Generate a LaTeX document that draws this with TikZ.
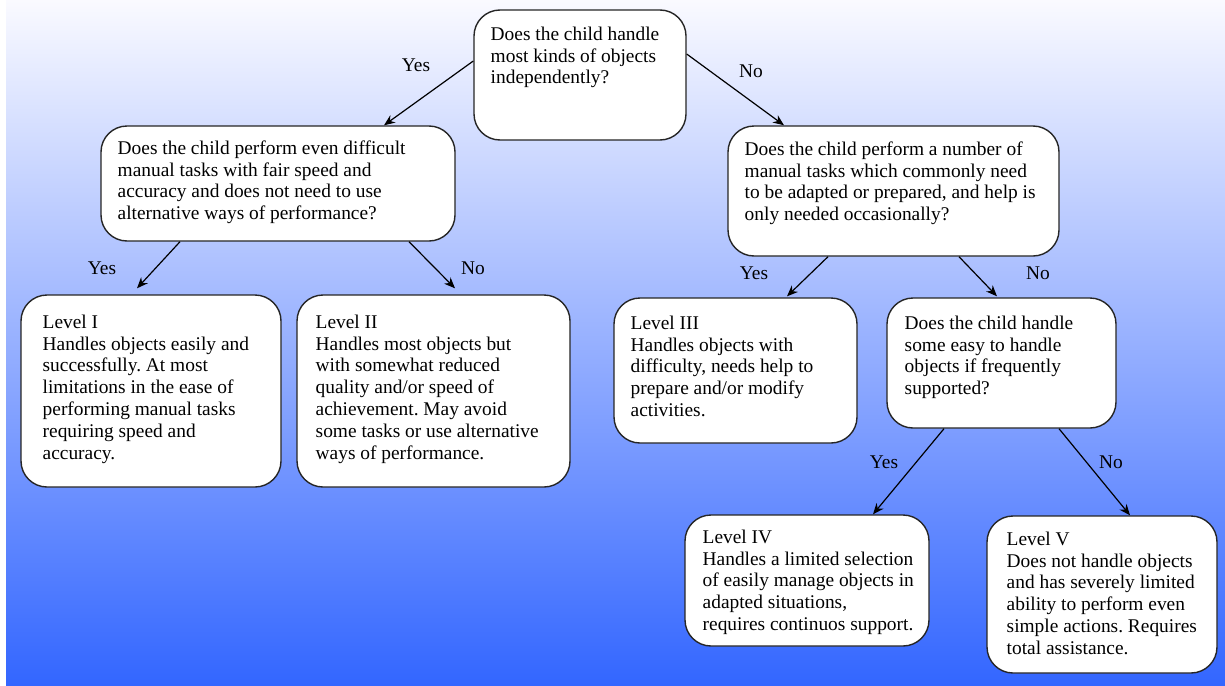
\documentclass[tikz,border=0pt]{standalone}
\usepackage{fontspec}
\setmainfont{Liberation Serif}
\usetikzlibrary{arrows.meta}
\definecolor{bgblue}{RGB}{51,102,255}
\definecolor{bgtop}{RGB}{250,250,255}
\frenchspacing
\newcommand{\boxtext}[1]{\parbox[t]{200pt}{\raggedright\frenchspacing\fontsize{9.7}{10.9}\selectfont #1}}
\begin{document}
\begin{tikzpicture}[x=0.5pt,y=-0.5pt,
  box/.style={draw=black!85, line width=0.7pt, fill=white, rounded corners=13pt, inner sep=0pt},
  txt/.style={anchor=base west, inner sep=0pt},
  lbl/.style={inner sep=0pt, font=\fontsize{9.7}{10.9}\selectfont},
  arr/.style={-{Stealth[length=5.5pt,width=4.5pt]}, line width=0.6pt, black}]
\useasboundingbox (0,0) rectangle (1225,685);
\shade[top color=bgtop, bottom color=bgblue] (6,0) rectangle (1225,685);

% boxes
\node[box, minimum width=106pt, minimum height=65pt] (root) at (580,75) {};
\node[box, minimum width=177pt, minimum height=57.5pt] (q1) at (278,183.5) {};
\node[box, minimum width=165.5pt, minimum height=65pt] (q2) at (893.5,191) {};
\node[box, minimum width=130pt, minimum height=96pt] (l1) at (151,391) {};
\node[box, minimum width=136.5pt, minimum height=96pt] (l2) at (433.5,391) {};
\node[box, minimum width=121.5pt, minimum height=72.5pt] (l3) at (735.5,370.5) {};
\node[box, minimum width=114.5pt, minimum height=65pt] (q3) at (1001.5,363) {};
\node[box, minimum width=122pt, minimum height=65.5pt] (l4) at (807,580.5) {};
\node[box, minimum width=115pt, minimum height=78.5pt] (l5) at (1102,594.5) {};

% texts
\node[txt] (rootT) at ([xshift=8.5pt,yshift=-15.5pt]root.north west) {\boxtext{Does the child handle\\most kinds of objects\\independently?}};
\node[txt] (q1T) at ([xshift=8.5pt,yshift=-14.5pt]q1.north west) {\boxtext{Does the child perform even difficult\\manual tasks with fair speed and\\accuracy and does not need to use\\alternative ways of performance?}};
\node[txt] (q2T) at ([xshift=8.5pt,yshift=-15pt]q2.north west) {\boxtext{Does the child perform a number of\\manual tasks which commonly need\\to be adapted or prepared, and help is\\only needed occasionally?}};
\node[txt] (l1T) at ([xshift=11pt,yshift=-17pt]l1.north west) {\boxtext{Level I\\Handles objects easily and\\successfully. At most\\limitations in the ease of\\performing manual tasks\\requiring speed and\\accuracy.}};
\node[txt] (l2T) at ([xshift=9.5pt,yshift=-17pt]l2.north west) {\boxtext{Level II\\Handles most objects but\\with somewhat reduced\\quality and/or speed of\\achievement. May avoid\\some tasks or use alternative\\ways of performance.}};
\node[txt] (l3T) at ([xshift=8.5pt,yshift=-16pt]l3.north west) {\boxtext{Level III\\Handles objects with\\difficulty, needs help to\\prepare and/or modify\\activities.}};
\node[txt] (q3T) at ([xshift=9pt,yshift=-16pt]q3.north west) {\boxtext{Does the child handle\\some easy to handle\\objects if frequently\\supported?}};
\node[txt] (l4T) at ([xshift=9pt,yshift=-14.5pt]l4.north west) {\boxtext{Level IV\\Handles a limited selection\\of easily manage objects in\\adapted situations,\\requires continuos support.}};
\node[txt] (l5T) at ([xshift=10pt,yshift=-15pt]l5.north west) {\boxtext{Level V\\Does not handle objects\\and has severely limited\\ability to perform even\\simple actions. Requires\\total assistance.}};

% connectors
\draw[arr] ([yshift=7pt]root.west) -- ([xshift=53pt]q1.north);
\draw[arr] ([yshift=10.5pt]root.east) -- ([xshift=-54.75pt]q2.north);
\draw[arr] ([xshift=-49pt]q1.south) -- ([xshift=-7pt,yshift=3pt]l1.north);
\draw[arr] ([xshift=65.5pt]q1.south) -- ([xshift=10.75pt,yshift=3pt]l2.north);
\draw[arr] ([xshift=-32.75pt]q2.south) -- ([xshift=25.75pt,yshift=0.5pt]l3.north);
\draw[arr] ([xshift=32.75pt]q2.south) -- ([xshift=-2.25pt,yshift=0.5pt]q3.north);
\draw[arr] ([xshift=-28.75pt]q3.south) -- ([xshift=33pt]l4.north);
\draw[arr] ([xshift=28.75pt]q3.south) -- ([xshift=14pt]l5.north);

% labels
\node[lbl] (y1) at (416,65) {Yes};
\node[lbl] (n1) at (751,71) {No};
\node[lbl] (y2) at (102,268) {Yes};
\node[lbl] (n2) at (473,268) {No};
\node[lbl] (y3) at (754,273) {Yes};
\node[lbl] (n3) at (1038,273) {No};
\node[lbl] (y4) at (884,462) {Yes};
\node[lbl] (n4) at (1111,462) {No};
\end{tikzpicture}
\end{document}
